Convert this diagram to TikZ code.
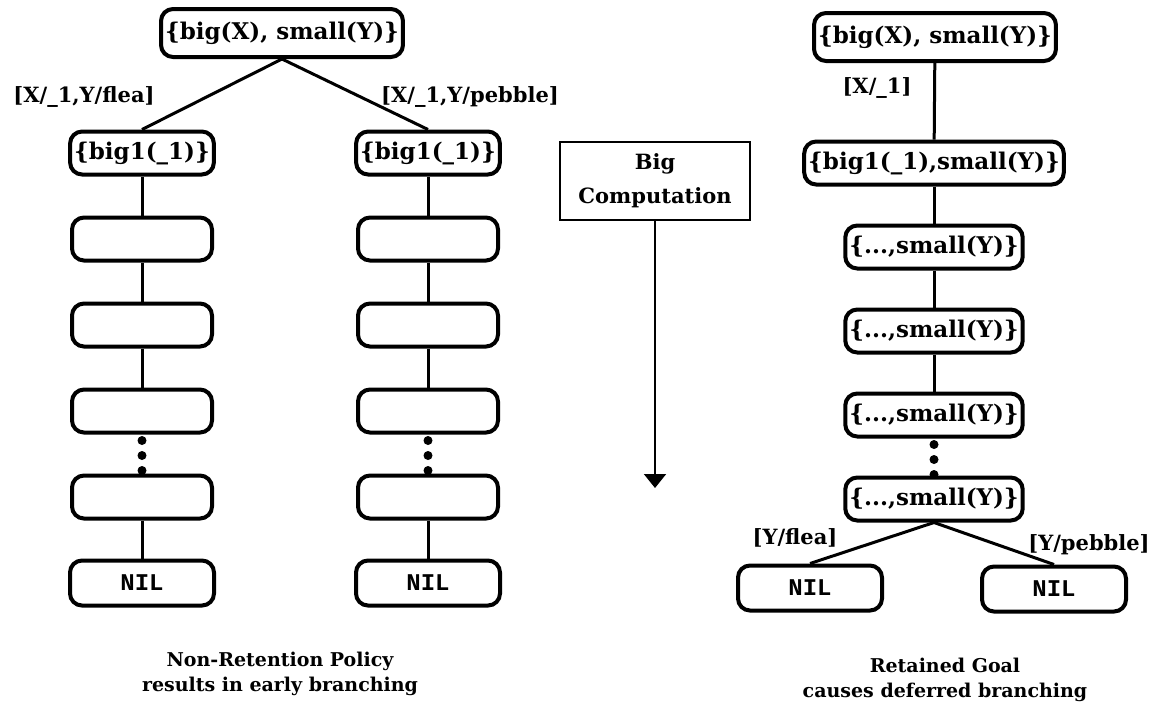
\documentclass[tikz,border=0pt]{standalone}
\usepackage{fontspec}
\setmainfont{DejaVu Serif}
\newfontfamily\nilfont{Liberation Mono}
\usetikzlibrary{positioning,arrows.meta}

\begin{document}
\begin{tikzpicture}%
    [x=0.5pt, y=-0.5pt,
    node distance=43pt,
    on grid,
    font=\bfseries\fontsize{11.5}{14}\selectfont,
    goal/.style={draw, line width=2pt, rounded corners=6pt, inner xsep=2pt, inner ysep=0pt, minimum height=21.5pt},
    slot/.style={goal, minimum width=70pt},
    nil/.style={goal, minimum width=72pt, minimum height=22.5pt, font=\nilfont\bfseries\fontsize{12}{14}\selectfont},
    compbox/.style={draw, line width=1pt, minimum width=95pt, minimum height=39pt, align=center, font=\bfseries\fontsize{10.5}{17}\selectfont},
    link/.style={line width=1.5pt},
    dots/.style={line width=4.5pt, line cap=round, dash pattern=on 0pt off 7.5pt, dash phase=4.5pt},
    subst/.style={inner sep=0pt, font=\bfseries\fontsize{10.5}{13}\selectfont},
    caption/.style={align=center, font=\bfseries\fontsize{9.5}{12.5}\selectfont}
    ]
    \useasboundingbox (0,0) rectangle (1172,720);

    % non-retention tree
    \node[goal, minimum height=24pt] (lroot) at (282,33)  {\{big(X), small(Y)\}};
    \node[goal] (lflea)   at (142,153)       {\{big1(\_1)\}};
    \node[goal] (lpebble) at (428,153)       {\{big1(\_1)\}};
    \node[slot] (la1) [below=of lflea]       {};
    \node[slot] (la2) [below=of la1]         {};
    \node[slot] (la3) [below=of la2]         {};
    \node[slot] (la4) [below=of la3]         {};
    \node[nil]  (lanil) [below=of la4]       {NIL};
    \node[slot] (lb1) [below=of lpebble]     {};
    \node[slot] (lb2) [below=of lb1]         {};
    \node[slot] (lb3) [below=of lb2]         {};
    \node[slot] (lb4) [below=of lb3]         {};
    \node[nil]  (lbnil) [below=of lb4]       {NIL};
    \node[subst] (lsubflea)   at (84,97)     {[X/\_1,Y/flea]};
    \node[subst] (lsubpebble) at (470,97)    {[X/\_1,Y/pebble]};

    % big computation
    \node[compbox] (comp) at (655,181)       {Big\\Computation};
    \coordinate (compend) at (655,488);

    % retained goal tree
    \node[goal, minimum height=24pt] (rroot) at (935,37) {\{big(X), small(Y)\}};
    \node[goal] (rbig) at (934,163)          {\{big1(\_1),small(Y)\}};
    \node[subst] (rsub) at (877,88)          {[X/\_1]};
    \begin{scope}[node distance=42pt]
    \node[goal] (r1) [below=of rbig]         {\{...,small(Y)\}};
    \node[goal] (r2) [below=of r1]           {\{...,small(Y)\}};
    \node[goal] (r3) [below=of r2]           {\{...,small(Y)\}};
    \node[goal] (r4) [below=of r3]           {\{...,small(Y)\}};
    \end{scope}
    \node[nil] (rnilflea)   at (810,588)     {NIL};
    \node[nil] (rnilpebble) at (1054,589)    {NIL};
    \node[subst] (rsubflea)   at (795,538)   {[Y/flea]};
    \node[subst] (rsubpebble) at (1089,545)  {[Y/pebble]};

    % captions
    \node[caption] (lcap) at (280,674) {Non-Retention Policy\\results in early branching};
    \node[caption] (rcap) at (945,680) {Retained Goal\\causes deferred branching};

    \path[link]
    (lroot.south) edge (lflea.north)
    (lroot.south) edge (lpebble.north)
    (lflea) edge (la1)  (la1) edge (la2)  (la2) edge (la3)  (la4) edge (lanil)
    (lpebble) edge (lb1)  (lb1) edge (lb2)  (lb2) edge (lb3)  (lb4) edge (lbnil)
    (rroot) edge (rbig)  (rbig) edge (r1)  (r1) edge (r2)  (r2) edge (r3)
    (r4.south) edge (rnilflea.north)
    (r4.south) edge (rnilpebble.north)
    ;
    \draw[dots] (la3) -- (la4);
    \draw[dots] (lb3) -- (lb4);
    \draw[dots] (r3) -- (r4);
    \draw[line width=1pt, -{Triangle[width=11pt, length=7pt]}] (comp) -- (compend);
\end{tikzpicture}
\end{document}
